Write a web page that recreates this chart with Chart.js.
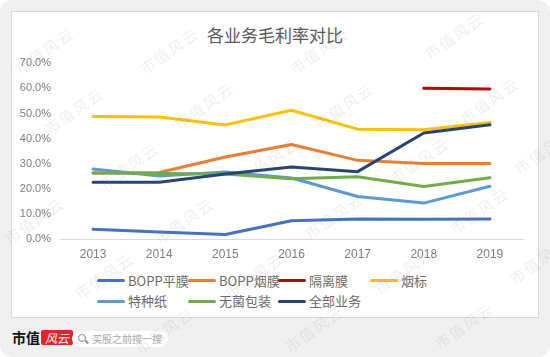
<!DOCTYPE html>
<html>
<head>
<meta charset="utf-8">
<script src="https://cdn.jsdelivr.net/npm/chart.js@4.4.1/dist/chart.umd.min.js"></script>
<style>
  html, body { margin: 0; padding: 0; background: #ffffff; }
  body { width: 550px; height: 357px; position: relative; overflow: hidden;
         font-family: "Noto Sans CJK SC", "Noto Sans", sans-serif; }
  #bg { position: absolute; left: 0; top: 0; width: 550px; height: 357px; background: #f0f0f0; border-radius: 12px; }
  #card { position: absolute; left: 11px; top: 11px; width: 526px; height: 305px; background: #fff; border: 1px solid #d9d9d9; }
  #title { position: absolute; left: 0; width: 550px; top: 23px; text-align: center; font-size: 17px; color: #595959; line-height: 24px; }
  #chart { position: absolute; left: 0; top: 0; }
  .lg { position: absolute; height: 20px; line-height: 20px; font-size: 13px; color: #6b6b6b; white-space: nowrap; }
  .lg i { display: inline-block; width: 28px; height: 3px; border-radius: 2px; vertical-align: middle; margin-right: 3px; position: relative; top: -1px; }
  .wm { position: absolute; font-size: 15px; color: rgba(120,120,120,0.13); transform: rotate(-35deg); white-space: nowrap; pointer-events: none; letter-spacing: 2px; }
  #logo { position: absolute; left: 12px; top: 329px; font-size: 14px; font-weight: bold; color: #111; line-height: 16px; }
  #logo span { display: inline-block; background: #e8222a; color: #fff; font-style: italic; font-weight: normal; padding: 0 4px; margin-left: 1px; border-radius: 2px; font-size: 12px; line-height: 15px; }
  #search { position: absolute; left: 72px; top: 331px; width: 96px; height: 16px; background: #fff; border-radius: 8px; font-size: 10px; color: #a8a8a8; line-height: 16px; }
  #search b { position: absolute; left: 6px; top: 3px; width: 6px; height: 6px; border: 1.5px solid #8a8a8a; border-radius: 50%; }
  #search em { position: absolute; left: 13px; top: 10px; width: 4px; height: 1.5px; background: #8a8a8a; transform: rotate(45deg); }
  #search span { position: absolute; left: 20px; top: 0; }
</style>
</head>
<body>
<div id="bg"></div>
<div id="card"></div>
<div id="title">各业务毛利率对比</div>
<canvas id="chart" width="550" height="270" style="width:550px;height:270px"></canvas>
<div id="legend"></div>
<div id="logo">市值<span>风云</span></div>
<div id="search"><b></b><em></em><span>买股之前搜一搜</span></div>
<div id="wms"></div>
<script>
// ---- data ----
const years = ["2013", "2014", "2015", "2016", "2017", "2018", "2019"];
const seriesNames = ["BOPP平膜", "BOPP烟膜", "隔离膜", "烟标", "特种纸", "无菌包装", "全部业务"];
const boppFlat   = [4.0, 2.9, 1.9, 7.4, 8.1, 8.0, 8.1];
const boppCig    = [26.4, 26.6, 32.7, 37.7, 31.4, 30.1, 30.1];
const isoFilm    = [null, null, null, null, null, 60.1, 59.8];
const cigLabel   = [48.8, 48.6, 45.5, 51.3, 43.8, 43.6, 46.5];
const specPaper  = [28.0, 25.2, 26.8, 24.4, 17.0, 14.4, 21.1];
const asepticPkg = [26.4, 26.2, 26.0, 24.1, 24.9, 21.0, 24.5];
const allBiz     = [22.7, 22.7, 26.0, 28.8, 26.9, 42.3, 45.6];
const yTicks = ["0.0%", "10.0%", "20.0%", "30.0%", "40.0%", "50.0%", "60.0%", "70.0%"];

const seriesValues = [boppFlat, boppCig, isoFilm, cigLabel, specPaper, asepticPkg, allBiz];
const colors = ["#4472C4", "#ED7D31", "#C00000", "#FFC000", "#5B9BD5", "#70AD47", "#264478"];

const datasets = seriesNames.map((n, i) => ({
  label: n,
  data: seriesValues[i],
  borderColor: colors[i],
  backgroundColor: colors[i],
  borderWidth: 3,
  pointRadius: 0,
  pointHoverRadius: 0,
  tension: 0,
  fill: false,
  borderCapStyle: 'round',
  borderJoinStyle: 'round',
  spanGaps: false
}));
// draw order: later on top (navy over others)
const order = [0, 1, 2, 3, 4, 5, 6];
datasets.forEach((d, i) => d.order = 7 - i);

new Chart(document.getElementById('chart'), {
  type: 'line',
  data: { labels: years, datasets },
  options: {
    responsive: false,
    animation: false,
    devicePixelRatio: 1,
    layout: { padding: { left: 0, right: 27, top: 63.3, bottom: 0 } },
    plugins: { legend: { display: false }, title: { display: false }, tooltip: { enabled: false } },
    scales: {
      x: {
        offset: true,
        grid: { display: false, drawTicks: false },
        border: { display: true, color: '#d9d9d9', width: 1 },
        ticks: { color: '#7f7f7f', font: { size: 12, family: "'Liberation Sans', 'Noto Sans', sans-serif" }, padding: 8, maxRotation: 0 },
        afterFit: s => { s.height = 30.7; }
      },
      y: {
        min: 0, max: 70,
        grid: { display: false, drawTicks: false },
        border: { display: false },
        ticks: {
          stepSize: 10,
          color: '#7f7f7f',
          font: { size: 11, family: "'Liberation Sans', 'Noto Sans', sans-serif" },
          padding: 9,
          callback: (v) => yTicks[Math.round(v / 10)]
        },
        afterFit: s => { s.width = 60; }
      }
    }
  }
});

// ---- custom legend ----
const lg = document.getElementById('legend');
const colX = [97, 188, 278, 370];
const rowY = [270.5, 291];
seriesNames.forEach((n, i) => {
  const r = Math.floor(i / 4), c = i % 4;
  const d = document.createElement('div');
  d.className = 'lg';
  d.style.left = colX[c] + 'px';
  d.style.top = rowY[r] + 'px';
  d.innerHTML = '<i style="background:' + colors[i] + '"></i>' + n;
  lg.appendChild(d);
});

// ---- watermarks ----
const wms = document.getElementById('wms');
const wmPos = [[10,40],[135,40],[285,40],[420,25],[455,90],[170,95],[310,95],[40,100],
               [95,155],[235,150],[385,150],[510,140],[0,210],[150,210],[300,205],[445,200],
               [70,265],[220,265],[370,260],[505,250],[130,320],[280,318],[430,315]];
wmPos.forEach(p => {
  const w = document.createElement('div');
  w.className = 'wm';
  w.style.left = p[0] + 'px';
  w.style.top = p[1] + 'px';
  w.textContent = '市值风云';
  wms.appendChild(w);
});
</script>
</body>
</html>
